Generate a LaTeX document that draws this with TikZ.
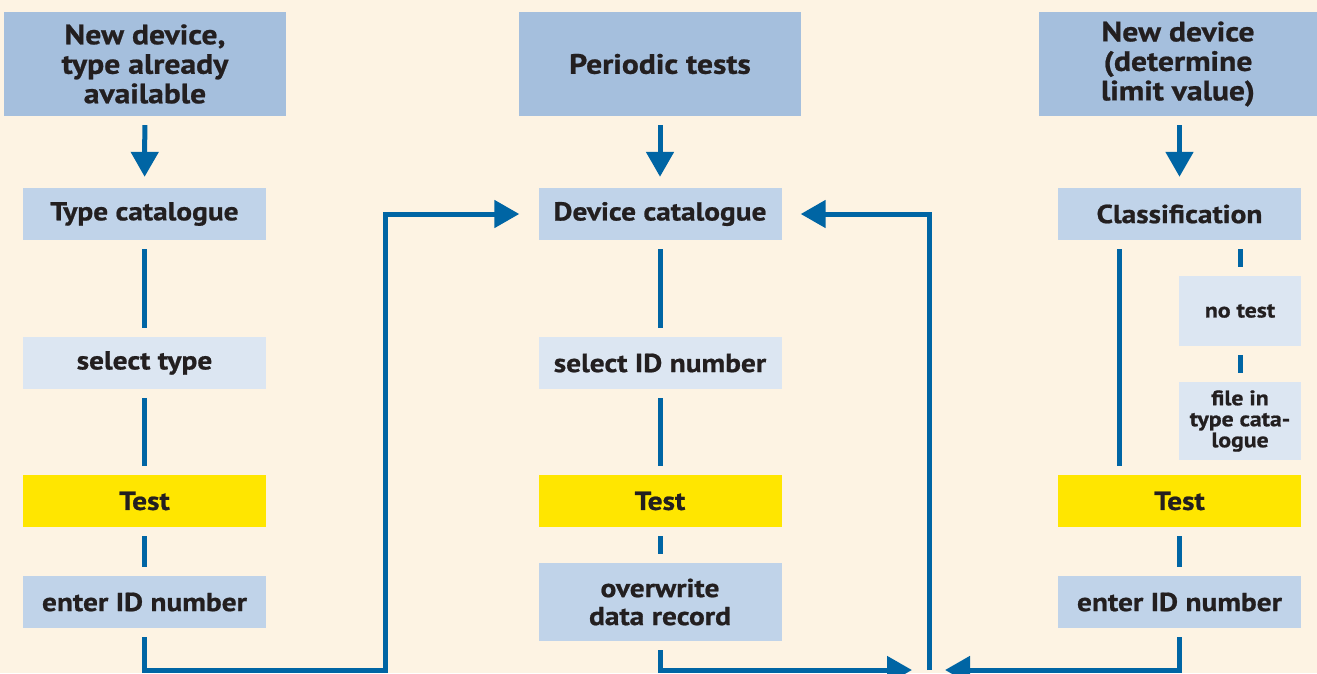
\documentclass[tikz,border=0pt]{standalone}
\usepackage{fontspec}
\setmainfont{PT Sans}[BoldFeatures={FakeStretch=1.13,FakeBold=0.8}]
\usetikzlibrary{arrows.meta}
\definecolor{bgc}{HTML}{FDF3E3}
\definecolor{hdrc}{HTML}{A5BFDD}
\definecolor{catc}{HTML}{C0D3E9}
\definecolor{selc}{HTML}{DCE6F2}
\definecolor{yelc}{HTML}{FFE600}
\definecolor{bluc}{HTML}{0065A4}
\definecolor{txtc}{HTML}{231F20}
\tikzset{
  box/.style={rectangle, inner sep=0pt, align=center, text=txtc,
    font=\bfseries\fontsize{26}{28}\selectfont},
  hdr/.style={box, fill=hdrc, minimum width=282pt, minimum height=104pt,
    font=\bfseries\fontsize{28}{29.5}\selectfont},
  cat/.style={box, fill=catc, minimum width=243pt, minimum height=52pt},
  sel/.style={box, fill=selc, minimum width=243pt, minimum height=52pt},
  tst/.style={box, fill=yelc, minimum width=243pt, minimum height=52pt},
  small/.style={box, fill=selc, minimum width=122pt,
    font=\bfseries\fontsize{21}{21}\selectfont},
  conn/.style={draw=bluc, line width=5pt},
  gap/.style={shorten <=9pt, shorten >=9pt},
  arr/.style={conn, -{Triangle[length=25pt,width=27pt]}},
}
\begin{document}
\begin{tikzpicture}[x=1pt,y=-1pt]
\clip (0,0) rectangle (1317,673);
\fill[bgc] (0,0) rectangle (1317,673);

% headers
\node[hdr] (h1) at (145,64) {New device,\\type already\\available};
\node[hdr] (h2) at (660,64) {Periodic tests};
\node[hdr, minimum width=278pt] (h3) at (1178,64) {New device\\(determine\\limit value)};

% catalogues
\node[cat] (tc) at (144.5,214) {Type catalogue};
\node[cat] (dc) at (660,214) {Device catalogue};
\node[cat] (cl) at (1179.5,214) {Classification};

% selection
\node[sel] (st) at (144.5,363) {select type};
\node[sel] (sid) at (660,363) {select ID number};

% right side branch
\node[small, minimum height=70pt] (nt) at (1240,311) {no test};
\node[small, minimum height=78pt] (fi) at (1240,421) {file in\\type cata-\\logue};

% tests
\node[tst] (t1) at (144.5,501) {Test};
\node[tst] (t2) at (660,501) {Test};
\node[tst] (t3) at (1179.5,501) {Test};

% final steps
\node[cat] (e1) at (144.5,602) {enter ID number};
\node[cat, minimum height=78pt] (ow) at (660,602) {overwrite\\data record};
\node[cat] (e3) at (1179.5,602) {enter ID number};

% helper coordinates
\coordinate (xl) at (1119,0);
\coordinate (lc) at (385,670);
\coordinate (jn) at (929,670);
\coordinate (jt) at (929,214);

% top arrows
\draw[arr, shorten <=9pt, shorten >=11pt] (h1) -- (tc);
\draw[arr, shorten <=9pt, shorten >=11pt] (h2) -- (dc);
\draw[arr, shorten <=9pt, shorten >=11pt] (h3.south -| cl.south) -- (cl);

% left column
\draw[conn, gap] (tc) -- (st);
\draw[conn, gap] (st) -- (t1);
\draw[conn, gap] (t1) -- (e1);

% middle column
\draw[conn, gap] (dc) -- (sid);
\draw[conn, gap] (sid) -- (t2);
\draw[conn, gap] (t2) -- (ow);

% right column
\draw[conn, gap] (cl.south -| xl) -- (t3.north -| xl);
\draw[conn, gap] (cl.south -| nt.north) -- (nt.north);
\draw[conn, gap] (nt) -- (fi);
\draw[conn, gap] (t3) -- (e3);

% return paths
\draw[arr, shorten <=9pt, shorten >=19pt] (e1.south) -- (e1.south |- lc) -- (lc) -- (lc |- dc.west) -- (dc.west);
\draw[arr, shorten <=9pt, shorten >=17pt] (ow.south) -- (ow.south |- jn) -- (jn);
\draw[arr, shorten <=9pt, shorten >=16pt] (e3.south) -- (e3.south |- jn) -- (jn);
\draw[arr, shorten >=19pt] (jn) -- (jt) -- (dc.east);
\end{tikzpicture}
\end{document}
